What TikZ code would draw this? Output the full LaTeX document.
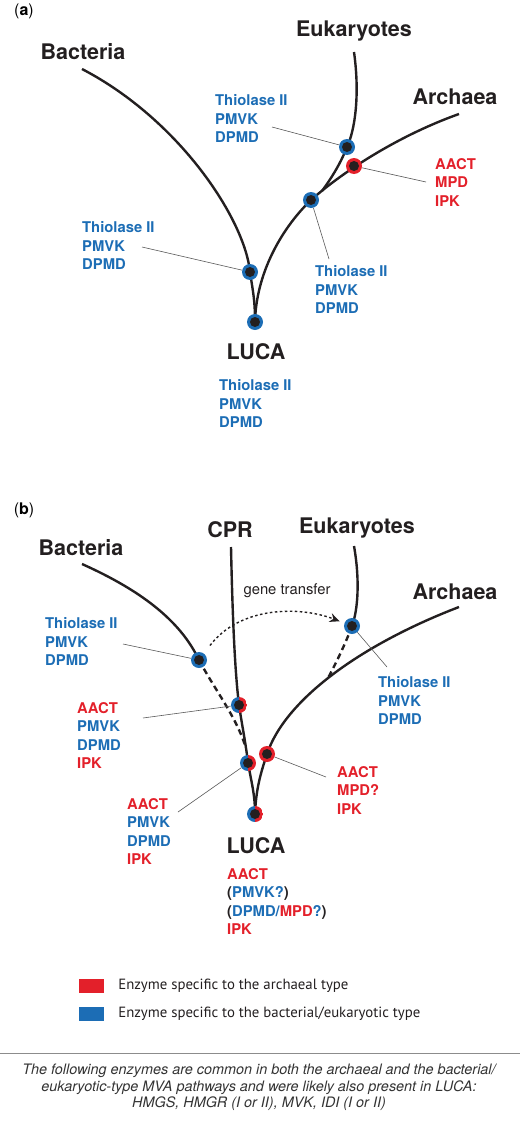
\documentclass[tikz,border=0pt]{standalone}
\usepackage{fontspec}
\setmainfont{TeX Gyre Heros}
\newfontfamily\legfont{PT Sans}
\usepackage{xcolor}
\usepackage{tikz}
\usetikzlibrary{positioning}
\usetikzlibrary{arrows.meta}
\usetikzlibrary{backgrounds}
\definecolor{eblue}{HTML}{1C6DB5}
\definecolor{ered}{HTML}{E3202A}
\definecolor{ink}{HTML}{231F20}

\begin{document}
\begin{tikzpicture}[x=1pt, y=-1pt,
	taxon/.style={font=\bfseries\fontsize{21.5}{24}\selectfont, text=ink, inner sep=0pt},
	enz/.style={font=\bfseries\fontsize{14.8}{18.3}\selectfont, align=left, anchor=north west, inner sep=0pt},
	bdot/.style={circle, inner sep=0pt, minimum size=16pt, fill=eblue, path picture={\fill[ink] (path picture bounding box.center) circle (5pt);}},
	rdot/.style={bdot, fill=ered},
	sdot/.style={circle, inner sep=0pt, minimum size=16pt, path picture={
		\fill[eblue] (path picture bounding box.south west) rectangle (path picture bounding box.north);
		\fill[ered] (path picture bounding box.south) rectangle (path picture bounding box.north east);
		\fill[ink] (path picture bounding box.center) circle (5pt);}},
	branch/.style={draw=ink, line width=2.4pt},
	lost/.style={branch, dash pattern=on 6pt off 4pt},
	leader/.style={draw=black!65, line width=0.6pt},
	transfer/.style={draw=ink, line width=1.4pt, dash pattern=on 2.5pt off 2.5pt, -{Stealth[length=10pt, width=9pt]}},
	legbox/.style={minimum width=25pt, minimum height=14pt, inner sep=0pt},
	legtxt/.style={font=\legfont\fontsize{14.8}{17}\selectfont, text=ink, inner sep=0pt}]
	\useasboundingbox (0,0) rectangle (520,1124);

	\node[inner sep=0pt] (pa) at (24,11) {\fontsize{16}{18}\selectfont(\textbf{a})};
	\node[taxon] (ba1) at (83,52) {Bacteria};
	\node[taxon] (eu1) at (354,31) {Eukaryotes};
	\node[taxon] (ar1) at (455,97) {Archaea};
	\node[taxon] (lu1) at (256,352) {LUCA};

	\coordinate (ba1t) at (82,69);
	\coordinate (eu1t) at (354,52);
	\coordinate (ar1t) at (459,114);
	\coordinate (eu1j) at (322,191);
	\node[bdot] (eu1d) at (347,147) {};
	\node[rdot] (ar1d) at (354,166) {};
	\node[bdot] (mi1d) at (311,200) {};
	\node[bdot] (ba1d) at (250,272) {};
	\node[bdot] (lu1d) at (255,322) {};

	\begin{scope}[on background layer]
		\path[branch] (ba1t) .. controls (180,120) and (245,220) .. (ba1d.center) .. controls (253,292) and (255,300) .. (lu1d.center);
		\path[branch] (ar1t) .. controls (400,135) and (345,170) .. (mi1d.center) .. controls (280,230) and (256,275) .. (lu1d.center);
		\path[branch] (eu1t) .. controls (360,95) and (355,130) .. (eu1d.center) .. controls (340,165) and (330,180) .. (eu1j);
	\end{scope}

	\node[enz, text=eblue] (eu1e) at (215,94.5) {Thiolase II\\PMVK\\DPMD};
	\node[enz, text=ered] (ar1e) at (435,158.5) {AACT\\MPD\\IPK};
	\node[enz, text=eblue] (mi1e) at (315,265.5) {Thiolase II\\PMVK\\DPMD};
	\node[enz, text=eblue] (ba1e) at (82,221.5) {Thiolase II\\PMVK\\DPMD};
	\node[enz, text=eblue] (lu1e) at (219,379.5) {Thiolase II\\PMVK\\DPMD};

	\coordinate (eu1l) at (272,127);
	\coordinate (ar1l) at (426,182);
	\coordinate (mi1l) at (329,259);
	\coordinate (ba1l) at (142,247);
	\draw[leader] (eu1l) -- (eu1d);
	\draw[leader] (ar1l) -- (ar1d);
	\draw[leader] (mi1l) -- (mi1d);
	\draw[leader] (ba1l) -- (ba1d);

	\node[inner sep=0pt] (pb) at (24,510) {\fontsize{16}{18}\selectfont(\textbf{b})};
	\node[taxon] (ba2) at (81,548) {Bacteria};
	\node[taxon] (cp2) at (230,530) {CPR};
	\node[taxon] (eu2) at (357,528) {Eukaryotes};
	\node[taxon] (ar2) at (455,592) {Archaea};
	\node[taxon] (lu2) at (256,846) {LUCA};
	\node[font=\fontsize{14.8}{17}\selectfont, text=ink, inner sep=0pt] (gt) at (287,591) {gene transfer};

	\coordinate (ba2t) at (82,564);
	\coordinate (cp2t) at (231,547);
	\coordinate (eu2t) at (354,546);
	\coordinate (ar2t) at (459,607);
	\coordinate (ba2j) at (245,745);
	\coordinate (eu2j) at (328,678);
	\node[bdot] (ba2d) at (199,660) {};
	\node[sdot] (cp2d) at (239,705) {};
	\node[sdot] (mi2d) at (248,763) {};
	\node[rdot] (ar2d) at (267,754) {};
	\node[bdot] (eu2d) at (352,626) {};
	\node[sdot] (lu2d) at (255,814) {};

	\begin{scope}[on background layer]
		\path[branch] (ba2t) .. controls (140,590) and (180,620) .. (ba2d.center);
		\path[lost] (ba2d.center) .. controls (215,690) and (235,715) .. (ba2j);
		\path[branch] (cp2t) .. controls (233,640) and (236,680) .. (cp2d.center) .. controls (242,725) and (246,745) .. (mi2d.center) .. controls (252,785) and (255,795) .. (lu2d.center);
		\path[branch] (ar2t) .. controls (360,645) and (285,700) .. (ar2d.center) .. controls (260,775) and (256,790) .. (lu2d.center);
		\path[branch] (eu2t) .. controls (360,580) and (358,610) .. (eu2d.center);
		\path[lost] (eu2d.center) .. controls (345,645) and (335,665) .. (eu2j);
	\end{scope}

	\draw[transfer, shorten <=10pt, shorten >=5pt] (ba2d) .. controls (240,606) and (300,606) .. (eu2d);

	\node[enz, text=eblue] (ba2e) at (45,617.5) {Thiolase II\\PMVK\\DPMD};
	\node[enz, text=eblue] (cp2e) at (77,702.5) {{\color{ered}AACT}\\PMVK\\DPMD\\{\color{ered}IPK}};
	\node[enz, text=eblue] (mi2e) at (127,798.5) {{\color{ered}AACT}\\PMVK\\DPMD\\{\color{ered}IPK}};
	\node[enz, text=ered] (ar2e) at (337,766.5) {AACT\\MPD?\\IPK};
	\node[enz, text=eblue] (eu2e) at (378,676.5) {Thiolase II\\PMVK\\DPMD};
	\node[enz, text=ink] (lu2e) at (227,868.5) {{\color{ered}AACT}\\({\color{eblue}PMVK?})\\({\color{eblue}DPMD/}{\color{ered}MPD}{\color{eblue}?})\\{\color{ered}IPK}};

	\coordinate (ba2l) at (123,644);
	\coordinate (cp2l) at (143,718);
	\coordinate (mi2l) at (178,812);
	\coordinate (ar2l) at (326,777);
	\coordinate (eu2l) at (387,667);
	\draw[leader] (ba2l) -- (ba2d);
	\draw[leader] (cp2l) -- (cp2d);
	\draw[leader] (mi2l) -- (mi2d);
	\draw[leader] (ar2l) -- (ar2d);
	\draw[leader] (eu2l) -- (eu2d);

	\node[legbox, fill=ered] (lr) at (91.5,986) {};
	\node[legbox, fill=eblue] (lb) at (91.5,1014) {};
	\node[legtxt, right=14pt of lr] (lrt) {Enzyme specific to the archaeal type};
	\node[legtxt, right=14pt of lb] (lbt) {Enzyme specific to the bacterial/eukaryotic type};

	\draw[draw=black!45, line width=0.8pt] (0,1053) -- (520,1053);
	\node[font=\itshape\fontsize{14.4}{16.8}\selectfont, text=black!80, align=center, anchor=north, inner sep=0pt] (note) at (259,1063.5) {The following enzymes are common in both the archaeal and the bacterial/\\eukaryotic-type MVA pathways and were likely also present in LUCA:\\HMGS, HMGR (I or II), MVK, IDI (I or II)};
\end{tikzpicture}
\end{document}
